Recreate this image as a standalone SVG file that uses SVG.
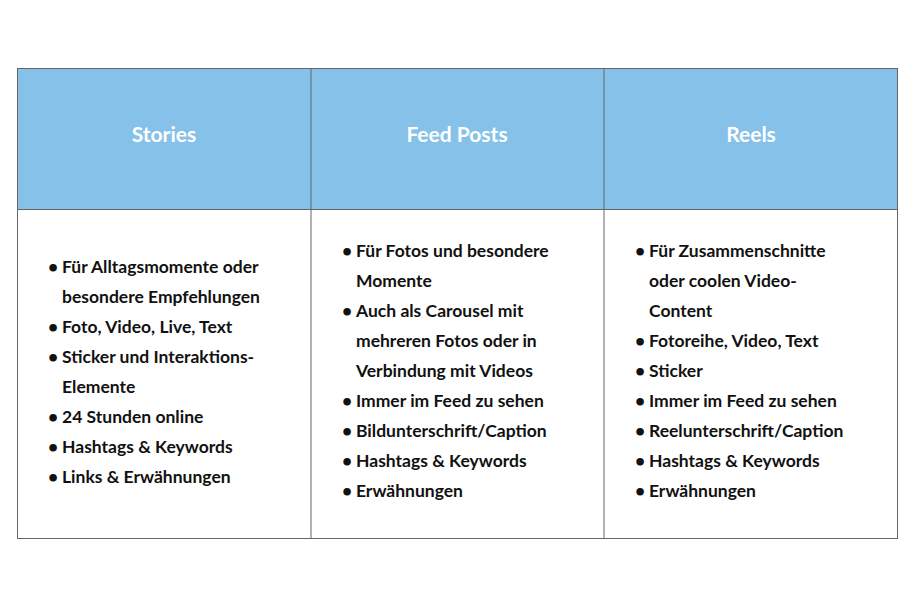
<svg xmlns="http://www.w3.org/2000/svg" width="915" height="607" viewBox="0 0 915 607">
<style>
.h{font-family:Lato,"Liberation Sans",sans-serif;font-weight:bold;font-size:21px;fill:#fff;text-anchor:middle}
.t{font-family:Lato,"Liberation Sans",sans-serif;font-weight:bold;font-size:17.5px;fill:#111}
.g{stroke:#666;stroke-width:1;fill:none}
</style>
<rect width="915" height="607" fill="#fff"/>
<rect x="17" y="68" width="881" height="141" fill="#85C1E9"/>
<rect class="g" x="17.5" y="68.5" width="880" height="470"/>
<line class="g" x1="17" y1="209.5" x2="898" y2="209.5"/>
<line class="g" x1="311" y1="68" x2="311" y2="539"/>
<line class="g" x1="604" y1="68" x2="604" y2="539"/>
<text class="h" x="164" y="142">Stories</text>
<text class="h" x="457" y="142">Feed Posts</text>
<text class="h" x="751" y="142">Reels</text>
<g id="col1" class="t">
<text x="48" y="273">•</text><text x="62" y="273">Für Alltagsmomente oder</text>
<text x="62" y="303">besondere Empfehlungen</text>
<text x="48" y="333">•</text><text x="62" y="333">Foto, Video, Live, Text</text>
<text x="48" y="363">•</text><text x="62" y="363">Sticker und Interaktions-</text>
<text x="62" y="393">Elemente</text>
<text x="48" y="423">•</text><text x="62" y="423">24 Stunden online</text>
<text x="48" y="453">•</text><text x="62" y="453">Hashtags &amp; Keywords</text>
<text x="48" y="483">•</text><text x="62" y="483">Links &amp; Erwähnungen</text>
</g>
<g id="col2" class="t">
<text x="342" y="257">•</text><text x="356" y="257">Für Fotos und besondere</text>
<text x="356" y="287">Momente</text>
<text x="342" y="317">•</text><text x="356" y="317">Auch als Carousel mit</text>
<text x="356" y="347">mehreren Fotos oder in</text>
<text x="356" y="377">Verbindung mit Videos</text>
<text x="342" y="407">•</text><text x="356" y="407">Immer im Feed zu sehen</text>
<text x="342" y="437">•</text><text x="356" y="437">Bildunterschrift/Caption</text>
<text x="342" y="467">•</text><text x="356" y="467">Hashtags &amp; Keywords</text>
<text x="342" y="497">•</text><text x="356" y="497">Erwähnungen</text>
</g>
<g id="col3" class="t">
<text x="635" y="257">•</text><text x="649" y="257">Für Zusammenschnitte</text>
<text x="649" y="287">oder coolen Video-</text>
<text x="649" y="317">Content</text>
<text x="635" y="347">•</text><text x="649" y="347">Fotoreihe, Video, Text</text>
<text x="635" y="377">•</text><text x="649" y="377">Sticker</text>
<text x="635" y="407">•</text><text x="649" y="407">Immer im Feed zu sehen</text>
<text x="635" y="437">•</text><text x="649" y="437">Reelunterschrift/Caption</text>
<text x="635" y="467">•</text><text x="649" y="467">Hashtags &amp; Keywords</text>
<text x="635" y="497">•</text><text x="649" y="497">Erwähnungen</text>
</g>
</svg>
